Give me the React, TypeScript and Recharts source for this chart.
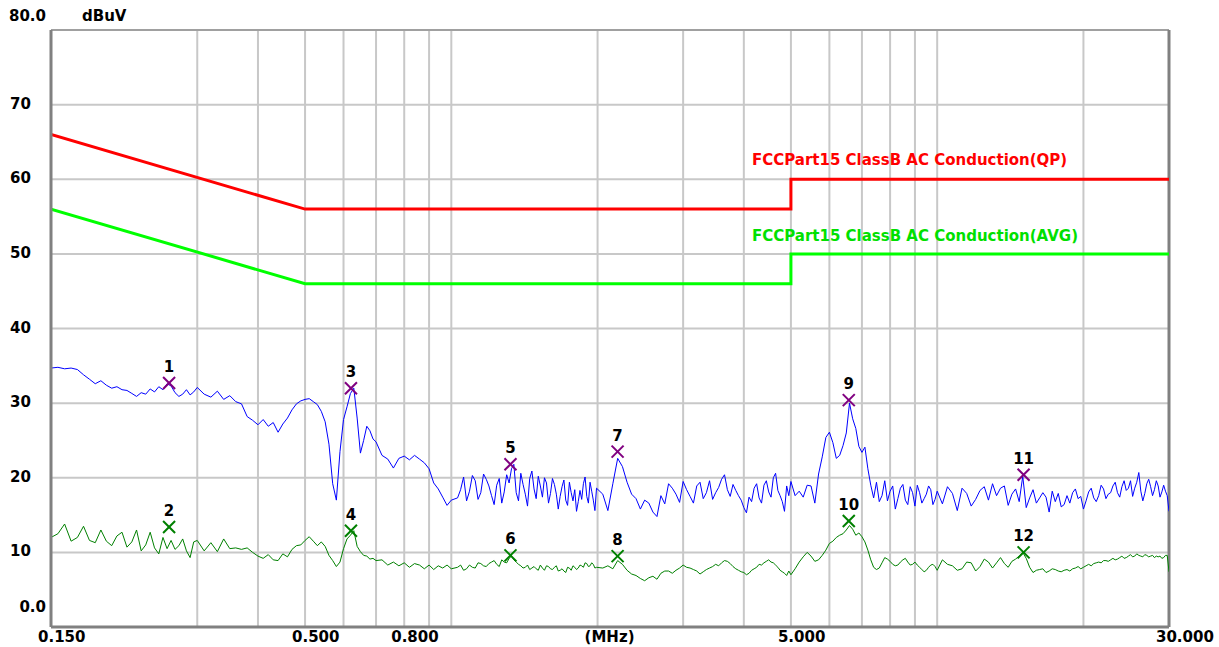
import { ComposedChart, Line, Scatter, XAxis, YAxis, CartesianGrid, ReferenceLine } from "recharts";

const FREQ = [
  0.15, 0.155, 0.16, 0.165, 0.17, 0.175, 0.18, 0.185, 0.19, 0.195, 0.2, 0.205, 0.21, 0.215, 0.22, 0.225,
  0.23, 0.235, 0.24, 0.245, 0.25, 0.255, 0.26, 0.265, 0.27, 0.275, 0.28, 0.285, 0.29, 0.295, 0.3,
  0.31, 0.32, 0.33, 0.34, 0.35, 0.36, 0.37, 0.38, 0.39, 0.4, 0.41, 0.42, 0.43, 0.44, 0.45,
  0.46, 0.47, 0.48, 0.49, 0.5, 0.51, 0.52, 0.53, 0.54, 0.55, 0.56, 0.57, 0.58, 0.59, 0.6,
  0.61, 0.62, 0.63, 0.64, 0.65, 0.66, 0.67, 0.68, 0.69, 0.7, 0.72, 0.74, 0.76, 0.78, 0.8,
  0.82, 0.84, 0.86, 0.88, 0.9, 0.92, 0.94, 0.96, 0.98, 1.0,
  1.03, 1.06, 1.09, 1.12, 1.15, 1.18, 1.21, 1.24, 1.27, 1.3, 1.33, 1.36, 1.39, 1.42, 1.45, 1.48,
  1.51, 1.54, 1.57, 1.6, 1.63, 1.66, 1.69, 1.72, 1.75, 1.78, 1.81, 1.84, 1.87, 1.9, 1.93, 1.96, 1.99,
  2.05, 2.1, 2.15, 2.2, 2.25, 2.3, 2.35, 2.4, 2.45, 2.5,
  2.6, 2.7, 2.8, 2.9, 3.0, 3.1, 3.2, 3.3, 3.4, 3.5, 3.6, 3.7, 3.8, 3.9, 4.0, 4.1, 4.2, 4.3, 4.4, 4.5,
  4.6, 4.7, 4.8, 4.9, 5.0,
  5.2, 5.4, 5.6, 5.8, 6.0, 6.2, 6.4, 6.6, 6.8, 7.0, 7.2, 7.4, 7.6, 7.8, 8.0, 8.2, 8.4, 8.6, 8.8, 9.0,
  9.2, 9.4, 9.6, 9.8, 10,
  10.5, 11, 11.5, 12, 12.5, 13, 13.5, 14, 14.5, 15, 15.5, 16, 16.5, 17, 17.5, 18, 18.5, 19, 19.5, 20,
  20.5, 21, 21.5, 22, 22.5, 23, 23.5, 24, 24.5, 25, 25.5, 26, 26.5, 27, 27.5, 28, 28.5, 29, 29.5, 30,
];

const PEAK = [
  34.7, 34.8, 34.6, 34.7, 34.5, 33.8, 33.2, 32.6, 33.0, 32.4, 32.0, 32.2, 31.8, 31.7, 31.3, 30.9,
  31.4, 31.2, 31.9, 31.5, 32.2, 31.8, 32.6, 32.3, 31.4, 30.9, 31.2, 31.8, 31.1, 31.5, 32.1,
  31.2, 30.8, 31.6, 30.5, 31.0, 30.2, 29.9, 28.2, 27.7, 27.1, 27.8, 26.9, 27.4, 26.1, 27.2,
  28.0, 29.1, 29.9, 30.3, 30.5, 30.6, 30.2, 29.8, 28.9, 27.5, 24.5, 19.2, 17.0, 23.5, 27.8,
  29.5, 31.3, 32.0, 28.0, 23.3, 25.0, 26.9, 26.3, 25.2, 24.8, 23.0, 22.5, 21.3, 22.6, 22.9,
  22.4, 23.0, 22.5, 22.0, 21.2, 19.3, 18.5, 17.4, 16.3, 17.0,
  17.3, 20.1, 18.2, 19.6, 18.0, 19.8, 17.6, 19.0, 16.6, 20.4, 21.2, 18.0, 20.6, 17.8, 19.9, 18.5,
  20.2, 17.4, 19.3, 17.9, 19.1, 15.8, 18.8, 17.0, 19.4, 16.9, 15.5, 18.3, 19.2, 17.5, 19.4, 17.0, 18.6,
  17.8, 15.6, 19.2, 22.6, 21.5, 19.4, 17.8, 17.2, 15.8, 17.0,
  15.4, 17.6, 19.2, 17.8, 19.5, 17.5, 18.9, 17.2, 19.6, 18.0, 19.8, 18.4, 19.1, 17.6, 16.0, 17.4, 18.6, 17.3, 19.0, 18.1,
  20.0, 18.3, 16.8, 18.9, 19.5,
  18.2, 19.0, 16.6, 22.8, 26.1, 22.6, 24.3, 30.0, 26.6, 23.4, 21.2, 17.3, 16.8, 19.6, 18.2, 15.8, 18.6, 17.0, 18.8, 16.2,
  18.0, 17.2, 18.9, 16.4, 18.2,
  18.8, 15.6, 17.9, 17.1, 18.8, 19.2, 18.6, 16.3, 18.5, 20.2, 17.3, 16.6, 18.0, 15.4, 16.8, 16.1, 17.6, 18.0, 17.2, 15.8,
  18.1, 17.3, 17.6, 18.5, 17.8, 18.9, 18.0, 18.8, 18.3, 19.6, 18.6, 20.7, 16.9, 19.2, 18.8, 18.4, 18.9, 18.1, 18.2, 15.5,
];

const AVG = [
  12.0, 12.5, 13.8, 11.5, 12.0, 13.5, 11.6, 11.3, 13.0, 11.5, 10.9, 12.2, 12.7, 10.7, 11.4, 13.0,
  10.2, 11.0, 12.7, 10.6, 9.8, 12.0, 10.5, 11.6, 10.4, 10.9, 11.8, 10.2, 9.3, 11.4, 11.6,
  10.2, 11.3, 10.1, 11.8, 10.5, 10.6, 10.4, 10.6, 10.0, 9.5, 9.2, 9.7, 9.0, 8.9, 9.8,
  9.4, 10.4, 10.9, 11.0, 11.6, 12.1, 11.5, 10.9, 11.4, 10.8, 9.6, 8.9, 8.1, 8.7, 10.5,
  11.8, 12.3, 12.9, 10.8, 10.1, 9.6, 9.5, 9.1, 9.2, 8.9, 9.0, 8.3, 8.7, 8.2, 8.6,
  8.0, 8.5, 8.3, 7.8, 8.3, 7.7, 8.2, 7.9, 8.3, 7.8,
  8.0, 7.6, 8.3, 7.9, 8.5, 8.1, 8.7, 8.4, 9.0, 8.6, 9.5, 8.7, 8.2, 8.0, 7.7, 8.1,
  7.6, 7.9, 8.2, 7.8, 8.0, 7.5, 7.8, 7.3, 7.9, 8.2, 7.7, 8.3, 8.0, 8.5, 8.2, 8.4, 8.0,
  7.9, 8.2, 7.8, 8.9, 8.4, 7.6, 7.1, 6.9, 6.5, 6.2,
  6.8, 7.2, 7.5, 7.6, 8.3, 7.9, 7.5, 7.4, 7.9, 8.4, 8.6, 8.8, 8.1, 7.6, 7.3, 7.2, 7.8, 8.4, 8.6, 9.0,
  8.6, 8.0, 7.4, 6.9, 7.0,
  8.7, 10.0, 8.8, 9.6, 11.2, 12.0, 12.5, 13.6, 12.3, 12.1, 10.3, 8.0, 7.9, 9.3, 8.8, 8.2, 8.7, 9.2, 8.3, 8.7,
  8.0, 7.4, 8.0, 8.4, 7.6,
  8.4, 7.6, 8.7, 7.5, 9.1, 7.9, 9.3, 8.0, 9.1, 10.0, 8.0, 7.6, 7.8, 7.5, 7.7, 7.4, 7.7, 7.8, 8.1, 8.0,
  8.4, 8.5, 8.7, 8.9, 8.8, 9.2, 9.1, 9.5, 9.3, 9.7, 9.5, 9.6, 9.4, 9.6, 9.5, 9.3, 9.4, 9.2, 9.6, 7.4,
];

// extra sweep points in the noisy part of the band (merged with the above by frequency)
const FREQ_FINE = [
  1.045, 1.075, 1.105, 1.135, 1.165, 1.195, 1.225, 1.255, 1.285, 1.315, 1.345, 1.375, 1.405, 1.435, 1.465, 1.495,
  1.525, 1.555, 1.585, 1.615, 1.645, 1.675, 1.705, 1.735, 1.765, 1.795, 1.825, 1.855, 1.885, 1.915, 1.945, 1.975,
  2.55, 2.65, 2.75, 2.85, 2.95, 3.05, 3.15, 3.25, 3.35, 3.45, 3.55, 3.65, 3.75, 3.85, 3.95, 4.05, 4.15, 4.25, 4.35, 4.45,
  4.55, 4.65, 4.75, 4.85, 4.95,
  5.1, 5.3, 5.5, 5.7, 5.9, 6.1, 6.3, 6.5, 6.7, 6.9, 7.1, 7.3, 7.5, 7.7, 7.9, 8.1, 8.3, 8.5, 8.7, 8.9,
  9.1, 9.3, 9.5, 9.7, 9.9,
  10.25, 10.75, 11.25, 11.75, 12.25, 12.75, 13.25, 13.75, 14.25, 14.75, 15.25, 15.75, 16.25, 16.75, 17.25, 17.75,
  18.25, 18.75, 19.25, 19.75, 20.25, 20.75, 21.25, 21.75, 22.25, 22.75, 23.25, 23.75, 24.25, 24.75, 25.25, 25.75,
  26.25, 26.75, 27.25, 27.75, 28.25, 28.75, 29.25, 29.75,
];

const PEAK_FINE = [
  18.4, 16.9, 20.3, 17.1, 20.5, 18.9, 16.4, 19.9, 18.1, 19.3, 21.8, 16.9, 19.1, 16.2, 20.9, 17.2,
  18.9, 20.0, 16.6, 19.9, 17.8, 17.5, 19.7, 16.3, 18.0, 18.4, 16.8, 17.1, 20.1, 16.6, 18.2, 15.6,
  16.6, 14.8, 16.5, 18.6, 16.7, 18.4, 16.6, 19.4, 18.0, 17.1, 18.7, 20.4, 17.5, 18.3, 17.0, 15.3, 16.8, 19.2, 16.6, 19.6,
  17.4, 20.6, 17.6, 15.5, 17.6,
  17.6, 17.4, 18.9, 20.5, 25.4, 24.7, 23.0, 26.0, 27.9, 24.2, 24.1, 19.0, 19.4, 17.6, 16.9, 18.9, 17.2, 19.1, 16.4, 18.0,
  19.0, 16.6, 17.8, 18.4, 17.1,
  16.5, 17.9, 18.6, 16.2, 18.3, 17.0, 17.6, 18.9, 17.8, 16.8, 16.0, 18.4, 17.3, 17.4, 18.2, 17.9,
  16.4, 16.6, 18.5, 17.5, 16.9, 18.6, 16.8, 19.0, 17.2, 18.0, 19.4, 17.4, 19.6, 18.6, 17.5, 19.4,
  18.2, 17.9, 19.8, 17.6, 19.6, 17.4, 19.0, 17.6,
];

const AVG_FINE = [
  8.3, 7.8, 8.0, 8.6, 8.2, 8.5, 8.9, 8.1, 8.7, 9.2, 9.0, 8.4, 7.9, 8.3, 7.9, 7.8,
  8.3, 7.6, 8.1, 7.7, 8.2, 7.6, 7.5, 8.0, 7.6, 8.0, 7.9, 8.2, 8.6, 8.1, 8.6, 7.9,
  6.6, 6.4, 7.5, 7.2, 7.9, 8.0, 7.7, 7.1, 7.7, 8.1, 8.2, 8.9, 8.5, 7.8, 7.4, 7.0, 7.6, 8.0, 8.3, 8.8,
  8.7, 8.3, 7.6, 7.2, 7.5,
  7.8, 9.4, 9.5, 9.0, 10.3, 11.5, 12.3, 13.0, 13.1, 12.6, 11.4, 9.0, 7.7, 8.6, 9.1, 8.4, 8.3, 9.0, 8.7, 8.4,
  8.3, 7.7, 7.6, 8.3, 8.1,
  9.0, 8.2, 7.8, 8.6, 8.1, 8.7, 8.6, 8.5, 8.8, 9.5, 9.2, 7.3, 7.7, 7.3, 7.8, 7.5,
  7.6, 7.5, 7.9, 7.8, 8.2, 8.2, 8.6, 8.6, 8.9, 9.0, 9.0, 9.3, 9.2, 9.5, 9.4, 9.8,
  9.5, 9.7, 9.4, 9.6, 9.5, 9.5, 9.3, 9.6,
];

// FCC Part 15 class B limits
const QP_F = [0.15, 0.5, 5, 5, 30];
const QP_V = [66, 56, 56, 60, 60];
const AV_F = [0.15, 0.5, 5, 5, 30];
const AV_V = [56, 46, 46, 50, 50];

// markers: odd = peak, even = avg
const MARK_NO = [1, 2, 3, 4, 5, 6, 7, 8, 9, 10, 11, 12];
const MARK_F = [0.2625, 0.2625, 0.6215, 0.6215, 1.3236, 1.3236, 2.199, 2.199, 6.577, 6.577, 15.06, 15.06];
const MARK_V = [32.7, 13.4, 32.0, 12.9, 21.8, 9.6, 23.5, 9.5, 30.4, 14.2, 20.4, 10.0];

const X_GRID = [0.15, 0.3, 0.4, 0.5, 0.6, 0.7, 0.8, 0.9, 1, 2, 3, 4, 5, 6, 7, 8, 9, 10, 20, 30];
const X_LABEL_AT = [0.15, 0.5, 0.8, 2, 5, 30];
const X_LABEL_TEXT = ["0.150", "0.500", "0.800", "(MHz)", "5.000", "30.000"];
const Y_TICKS = [0, 10, 20, 30, 40, 50, 60, 70, 80];
const Y_TICK_TEXT = ["0.0", "10", "20", "30", "40", "50", "60", "70", "80.0"];

const FONT = "'DejaVu Sans', sans-serif";
const txt = { fontFamily: FONT, fontWeight: "bold" as const, fontSize: 15 };

const zipData = (fs: number[], vs: number[]) => fs.map((f, i) => ({ f, v: vs[i] }));
const sweep = (vs: number[], fine: number[]) =>
  [...zipData(FREQ, vs), ...zipData(FREQ_FINE, fine)].sort((a, b) => a.f - b.f);

const peakData = sweep(PEAK, PEAK_FINE);
const avgData = sweep(AVG, AVG_FINE);
const qpData = zipData(QP_F, QP_V);
const avData = zipData(AV_F, AV_V);
const marks = MARK_NO.map((no, i) => ({ no, f: MARK_F[i], v: MARK_V[i] }));
const peakMarks = marks.filter((m) => m.no % 2 === 1);
const avgMarks = marks.filter((m) => m.no % 2 === 0);

function XTick({ x, y, payload }: any) {
  const i = X_LABEL_AT.indexOf(payload.value);
  if (i < 0) return <g />;
  return (
    <text x={x - 13} y={y + 10} textAnchor="start" dominantBaseline="central" fill="#000" {...txt}>
      {X_LABEL_TEXT[i]}
    </text>
  );
}

function YTick({ x, y, payload }: any) {
  const i = Y_TICKS.indexOf(payload.value);
  const label = Y_TICK_TEXT[i];
  if (payload.value === 80) {
    return (
      <g>
        <text x={x - 5} y={y - 14} textAnchor="end" dominantBaseline="central" fill="#000" {...txt}>{label}</text>
        <text x={x + 31} y={y - 14} textAnchor="start" dominantBaseline="central" fill="#000" {...txt}>dBuV</text>
      </g>
    );
  }
  if (payload.value === 0) {
    return <text x={x - 5} y={y - 20} textAnchor="end" dominantBaseline="central" fill="#000" {...txt}>{label}</text>;
  }
  return <text x={x - 41} y={y - 1} textAnchor="start" dominantBaseline="central" fill="#000" {...txt}>{label}</text>;
}

const markShape = (color: string) => (p: any) => {
  const { cx, cy, payload } = p;
  return (
    <g>
      <line x1={cx - 6} y1={cy - 6} x2={cx + 6} y2={cy + 6} stroke={color} strokeWidth={2} />
      <line x1={cx - 6} y1={cy + 6} x2={cx + 6} y2={cy - 6} stroke={color} strokeWidth={2} />
      <text x={cx} y={cy - 16} textAnchor="middle" dominantBaseline="central" fill="#000" {...txt}>{payload.no}</text>
    </g>
  );
};

const textShape = (label: string, color: string, dx: number, dy: number) => (p: any) => (
  <text x={p.cx + dx} y={p.cy + dy} textAnchor="start" dominantBaseline="central" fill={color} {...txt}>{label}</text>
);

export default function App() {
  return (
    <div style={{ position: "absolute", left: 0, top: 0, width: 1219, height: 647, background: "#fff" }}>
      <ComposedChart width={1219} height={647} margin={{ top: 30, right: 50, bottom: 0, left: 0 }}>
        <CartesianGrid stroke="#c8c8c8" strokeWidth={2} />
        <XAxis
          type="number"
          dataKey="f"
          scale="log"
          domain={[0.15, 30]}
          allowDataOverflow
          ticks={X_GRID}
          interval={0}
          height={20}
          tickSize={0}
          tickMargin={0}
          tickLine={false}
          axisLine={{ stroke: "#808080", strokeWidth: 3 }}
          tick={<XTick />}
        />
        <YAxis
          type="number"
          dataKey="v"
          domain={[0, 80]}
          allowDataOverflow
          ticks={Y_TICKS}
          interval={0}
          width={51}
          tickSize={0}
          tickMargin={0}
          tickLine={false}
          axisLine={{ stroke: "#808080", strokeWidth: 3 }}
          tick={<YTick />}
        />
        <ReferenceLine y={80} stroke="#a0a0a0" strokeWidth={2} />
        <ReferenceLine x={30} stroke="#808080" strokeWidth={3} />
        <Line data={qpData} dataKey="v" type="linear" stroke="#ff0000" strokeWidth={3} dot={false} activeDot={false} isAnimationActive={false} />
        <Line data={avData} dataKey="v" type="linear" stroke="#00ff00" strokeWidth={3} dot={false} activeDot={false} isAnimationActive={false} />
        <Line data={avgData} dataKey="v" type="linear" stroke="#008000" strokeWidth={1} dot={false} activeDot={false} isAnimationActive={false} />
        <Line data={peakData} dataKey="v" type="linear" stroke="#0000ff" strokeWidth={1} dot={false} activeDot={false} isAnimationActive={false} />
        <Scatter data={[qpData[3]]} dataKey="v" shape={textShape("FCCPart15 ClassB AC Conduction(QP)", "#ff0000", -39, -19)} isAnimationActive={false} />
        <Scatter data={[avData[3]]} dataKey="v" shape={textShape("FCCPart15 ClassB AC Conduction(AVG)", "#00e000", -39, -18)} isAnimationActive={false} />
        <Scatter data={[peakData[peakData.length - 1]]} dataKey="v" shape={textShape("peak", "#0000ff", 4, 3)} isAnimationActive={false} />
        <Scatter data={[avgData[avgData.length - 1]]} dataKey="v" shape={textShape("AVG", "#008000", 4, 0)} isAnimationActive={false} />
        <Scatter data={peakMarks} dataKey="v" shape={markShape("#800080")} isAnimationActive={false} />
        <Scatter data={avgMarks} dataKey="v" shape={markShape("#008000")} isAnimationActive={false} />
      </ComposedChart>
    </div>
  );
}
